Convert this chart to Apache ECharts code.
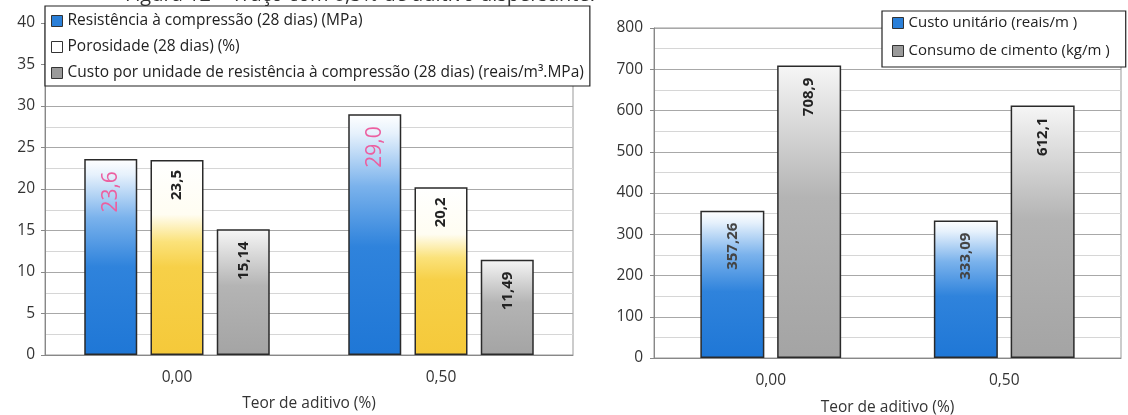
<!DOCTYPE html>
<html>
<head>
<meta charset="utf-8">
<script src="https://cdn.jsdelivr.net/npm/echarts@6/dist/echarts.min.js"></script>
<style>
html,body{margin:0;padding:0;background:#fff;}
#c{width:1128px;height:415px;}
</style>
</head>
<body>
<div id="c"></div>
<script>
// ---- data ----
const categories = ['0,00', '0,50'];
const resistencia = [23.6, 29.0];
const porosidade = [23.5, 20.2];
const custoResist = [15.14, 11.49];
const custoUnitario = [357.26, 333.09];
const consumoCimento = [708.9, 612.1];
const leftTicks = { min: 0, max: 40, interval: 5 };
const rightTicks = { min: 0, max: 800, interval: 100 };

const FONT = 'Open Sans';
const names = {
  res: 'Resistência à compressão (28 dias) (MPa)',
  por: 'Porosidade (28 dias) (%)',
  cus: 'Custo por unidade de resistência à compressão (28 dias) (reais/m³.MPa)',
  uni: 'Custo unitário (reais/m )',
  con: 'Consumo de cimento (kg/m )'
};

function grad(stops) {
  return new echarts.graphic.LinearGradient(0, 0, 0, 1, stops.map(s => ({offset: s[0], color: s[1]})));
}
const blueGrad = () => grad([[0, '#ffffff'], [0.08, '#e6f1fc'], [0.3, '#7ab2ec'], [0.55, '#2f83dc'], [1, '#1f77d6']]);
const yellowGrad = () => grad([[0, '#ffffff'], [0.28, '#fffdf2'], [0.42, '#fbe27a'], [0.55, '#f7d048'], [1, '#f5c93a']]);
const grayGrad = () => grad([[0, '#f6f6f6'], [0.45, '#b4b4b4'], [1, '#a4a4a4']]);

function fmt(d) { return p => p.value.toFixed(d).replace('.', ','); }

function lbl(d, color, size, bold, dist) {
  return {
    show: true, position: 'insideTop', rotate: 90, align: 'right', verticalAlign: 'middle',
    distance: dist, formatter: fmt(d), color: color, fontSize: size,
    fontWeight: bold ? 'bold' : 'normal', fontFamily: FONT
  };
}

const barBorder = { borderColor: '#2a2a2a', borderWidth: 1.5 };

const axisLabelStyle = { color: '#333', fontSize: 15.5, fontFamily: FONT };

const option = {
  animation: false,
  backgroundColor: '#fff',
  graphic: [{
    type: 'text', left: 125, top: -15, silent: true,
    style: { text: 'Figura 12 – Traço com 0,5% de aditivo dispersante.', fontSize: 20, fontFamily: FONT, fill: '#333' }
  }],
  grid: [
    { left: 45, top: 23, width: 528, height: 332, outerBoundsMode: 'none', containLabel: false,
      show: true, borderColor: '#999', borderWidth: 1, backgroundColor: 'transparent' },
    { left: 654, top: 28, width: 467, height: 330, outerBoundsMode: 'none', containLabel: false,
      show: true, borderColor: '#999', borderWidth: 1, backgroundColor: 'transparent' }
  ],
  xAxis: [
    { type: 'category', gridIndex: 0, data: categories,
      axisLine: { lineStyle: { color: '#888' } }, axisTick: { lineStyle: { color: '#888' }, length: 5 },
      axisLabel: Object.assign({ margin: 15 }, axisLabelStyle),
      name: 'Teor de aditivo (%)', nameLocation: 'middle', nameGap: 41,
      nameTextStyle: { color: '#333', fontSize: 15.5, fontFamily: FONT } },
    { type: 'category', gridIndex: 1, data: categories,
      axisLine: { lineStyle: { color: '#888' } }, axisTick: { lineStyle: { color: '#888' }, length: 5 },
      axisLabel: Object.assign({ margin: 15 }, axisLabelStyle),
      name: 'Teor de aditivo (%)', nameLocation: 'middle', nameGap: 42,
      nameTextStyle: { color: '#333', fontSize: 15.5, fontFamily: FONT } }
  ],
  yAxis: [
    { type: 'value', gridIndex: 0, min: leftTicks.min, max: leftTicks.max, interval: leftTicks.interval,
      axisLine: { show: true, lineStyle: { color: '#888' } },
      axisTick: { show: true, length: 4, lineStyle: { color: '#888' } },
      axisLabel: Object.assign({ margin: 10 }, axisLabelStyle),
      splitLine: { lineStyle: { color: '#a8a8a8' } },
      minorTick: { show: false, splitNumber: 2 },
      minorSplitLine: { show: true, lineStyle: { color: '#d6d6d6' } } },
    { type: 'value', gridIndex: 1, min: rightTicks.min, max: rightTicks.max, interval: rightTicks.interval,
      axisLine: { show: true, lineStyle: { color: '#888' } },
      axisTick: { show: true, length: 4, lineStyle: { color: '#888' } },
      axisLabel: Object.assign({ margin: 11 }, axisLabelStyle),
      splitLine: { lineStyle: { color: '#a8a8a8' } },
      minorTick: { show: false, splitNumber: 2 },
      minorSplitLine: { show: true, lineStyle: { color: '#d6d6d6' } } }
  ],
  legend: [
    { left: 45, top: 6, orient: 'vertical', padding: [6, 6, 4, 6], itemGap: 8,
      itemWidth: 11, itemHeight: 11, icon: 'rect',
      backgroundColor: '#fff', borderColor: '#222', borderWidth: 1.2,
      textStyle: { color: '#222', fontSize: 15.5, lineHeight: 18, fontFamily: FONT },
      data: [
        { name: names.res, itemStyle: { color: '#2a7fd8', borderColor: '#333', borderWidth: 1 } },
        { name: names.por, itemStyle: { color: '#ffffff', borderColor: '#333', borderWidth: 1 } },
        { name: names.cus, itemStyle: { color: '#9a9a9a', borderColor: '#333', borderWidth: 1 } }
      ] },
    { left: 882, top: 11, orient: 'vertical', padding: [3, 16, 7, 10], itemGap: 10,
      itemWidth: 11, itemHeight: 11, icon: 'rect',
      backgroundColor: '#fff', borderColor: '#222', borderWidth: 1.2,
      textStyle: { color: '#222', fontSize: 15, lineHeight: 18, fontFamily: FONT },
      data: [
        { name: names.uni, itemStyle: { color: '#2a7fd8', borderColor: '#333', borderWidth: 1 } },
        { name: names.con, itemStyle: { color: '#9a9a9a', borderColor: '#333', borderWidth: 1 } }
      ] }
  ],
  series: [
    { name: names.res, type: 'bar', xAxisIndex: 0, yAxisIndex: 0, data: resistencia,
      barWidth: 53, barGap: '25%',
      itemStyle: Object.assign({ color: blueGrad() }, barBorder),
      label: lbl(1, '#ec5fa0', 21, false, 12) },
    { name: names.por, type: 'bar', xAxisIndex: 0, yAxisIndex: 0, data: porosidade,
      barWidth: 53, barGap: '25%',
      itemStyle: Object.assign({ color: yellowGrad() }, barBorder),
      label: lbl(1, '#222', 15, true, 10) },
    { name: names.cus, type: 'bar', xAxisIndex: 0, yAxisIndex: 0, data: custoResist,
      barWidth: 53, barGap: '25%',
      itemStyle: Object.assign({ color: grayGrad() }, barBorder),
      label: lbl(2, '#222', 15, true, 12) },
    { name: names.uni, type: 'bar', xAxisIndex: 1, yAxisIndex: 1, data: custoUnitario,
      barWidth: 64, barGap: '20%',
      itemStyle: Object.assign({ color: blueGrad() }, barBorder),
      label: lbl(2, '#444', 15, true, 12) },
    { name: names.con, type: 'bar', xAxisIndex: 1, yAxisIndex: 1, data: consumoCimento,
      barWidth: 64, barGap: '20%',
      itemStyle: Object.assign({ color: grayGrad() }, barBorder),
      label: lbl(1, '#222', 15, true, 12) }
  ]
};

const chart = echarts.init(document.getElementById('c'), null, { renderer: 'canvas' });
chart.setOption(option);
</script>
</body>
</html>
